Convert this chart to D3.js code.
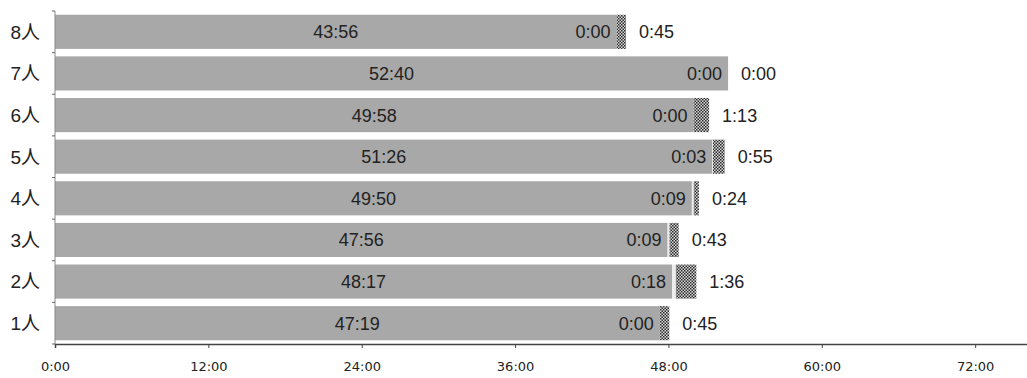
<html>
<head>
<script src="https://d3js.org/d3.v7.min.js"></script>
<style>
  body { margin: 0; background: #fff; }
  .lbl { font-family: "Liberation Sans", Arial, sans-serif; font-size: 18px; fill: #222; }
  .ylab { font-family: "Liberation Sans", "Noto Sans CJK JP", sans-serif; font-size: 19px; fill: #222; }
  .xaxis text { font-family: "DejaVu Sans", sans-serif; font-size: 13px; fill: #222; }
</style>
</head>
<body>
<svg width="1027" height="378" id="chart"></svg>
<script>
// rows from bottom to top
var groups = ["1人", "2人", "3人", "4人", "5人", "6人", "7人", "8人"];
var mainTime  = ["47:19", "48:17", "47:56", "49:50", "51:26", "49:58", "52:40", "43:56"];
var smallTime = ["0:00", "0:18", "0:09", "0:09", "0:03", "0:00", "0:00", "0:00"];
var extraTime = ["0:45", "1:36", "0:43", "0:24", "0:55", "1:13", "0:00", "0:45"];
var tickVals = [0, 12, 24, 36, 48, 60, 72];
var tickLabels = ["0:00", "12:00", "24:00", "36:00", "48:00", "60:00", "72:00"];

// "mm:ss" -> minutes
function toMin(s) {
  var p = s.split(":");
  return +p[0] + (+p[1]) / 60;
}

var rows = groups.map(function(g, i) {
  var a = toMin(mainTime[i]), b = toMin(smallTime[i]), c = toMin(extraTime[i]);
  return {g: g, a: a, b: b, c: c, la: mainTime[i], lb: smallTime[i], lc: extraTime[i]};
});

var svg = d3.select("#chart");

var x = d3.scaleLinear().domain([0, 80]).range([55, 55 + 80 * 12.78]);
var y = d3.scaleBand()
  .domain(groups.slice().reverse())
  .range([11, 344])
  .paddingInner(0.18)
  .paddingOuter(0.09);

// checker pattern for the last segment
var defs = svg.append("defs");
var pat = defs.append("pattern")
  .attr("id", "checker")
  .attr("width", 3).attr("height", 3)
  .attr("patternUnits", "userSpaceOnUse");
pat.append("rect").attr("width", 3).attr("height", 3).attr("fill", "#d8d8d8");
pat.append("rect").attr("width", 1.5).attr("height", 1.5).attr("fill", "#2a2a2a");
pat.append("rect").attr("x", 1.5).attr("y", 1.5).attr("width", 1.5).attr("height", 1.5).attr("fill", "#2a2a2a");

var bar = svg.append("g").selectAll("g")
  .data(rows)
  .enter().append("g");

bar.append("rect")
  .attr("x", x(0))
  .attr("y", d => y(d.g))
  .attr("width", d => x(d.a) - x(0))
  .attr("height", y.bandwidth())
  .attr("fill", "#a8a8a8");

bar.append("rect")
  .attr("x", d => x(d.a))
  .attr("y", d => y(d.g))
  .attr("width", d => x(d.a + d.b) - x(d.a))
  .attr("height", y.bandwidth())
  .attr("fill", "#ececec");

bar.append("rect")
  .attr("x", d => x(d.a + d.b))
  .attr("y", d => y(d.g))
  .attr("width", d => x(d.a + d.b + d.c) - x(d.a + d.b))
  .attr("height", y.bandwidth())
  .attr("fill", "url(#checker)");

// labels
bar.append("text")
  .attr("class", "lbl")
  .attr("x", d => (x(0) + x(d.a)) / 2)
  .attr("y", d => y(d.g) + y.bandwidth() / 2)
  .attr("dy", "0.36em")
  .attr("text-anchor", "middle")
  .text(d => d.la);

bar.append("text")
  .attr("class", "lbl")
  .attr("x", d => x(d.a) - 6)
  .attr("y", d => y(d.g) + y.bandwidth() / 2)
  .attr("dy", "0.36em")
  .attr("text-anchor", "end")
  .text(d => d.lb);

bar.append("text")
  .attr("class", "lbl")
  .attr("x", d => x(d.a + d.b + d.c) + 13)
  .attr("y", d => y(d.g) + y.bandwidth() / 2)
  .attr("dy", "0.36em")
  .text(d => d.lc);

// y axis
svg.append("line")
  .attr("x1", x(0)).attr("x2", x(0))
  .attr("y1", 11).attr("y2", 344)
  .attr("stroke", "#888").attr("stroke-width", 1);

var bounds = d3.range(groups.length + 1).map(i => 11 + i * (333 / groups.length));
svg.append("g").selectAll("line")
  .data(bounds)
  .enter().append("line")
  .attr("x1", x(0) - 3).attr("x2", x(0))
  .attr("y1", d => d).attr("y2", d => d)
  .attr("stroke", "#666");

svg.append("g").selectAll("text")
  .data(groups)
  .enter().append("text")
  .attr("class", "ylab")
  .attr("x", 40)
  .attr("y", d => y(d) + y.bandwidth() / 2)
  .attr("dy", "0.36em")
  .attr("text-anchor", "end")
  .text(d => d);

// x axis
var xAxis = d3.axisBottom(x)
  .tickValues(tickVals)
  .tickFormat((d, i) => tickLabels[i])
  .tickSize(4)
  .tickPadding(14);

var gx = svg.append("g")
  .attr("class", "xaxis")
  .attr("transform", "translate(0,344)")
  .call(xAxis);
gx.select(".domain").attr("stroke", "#444").attr("stroke-width", 1.5);
gx.selectAll(".tick line").attr("stroke", "#444");
</script>
</body>
</html>
